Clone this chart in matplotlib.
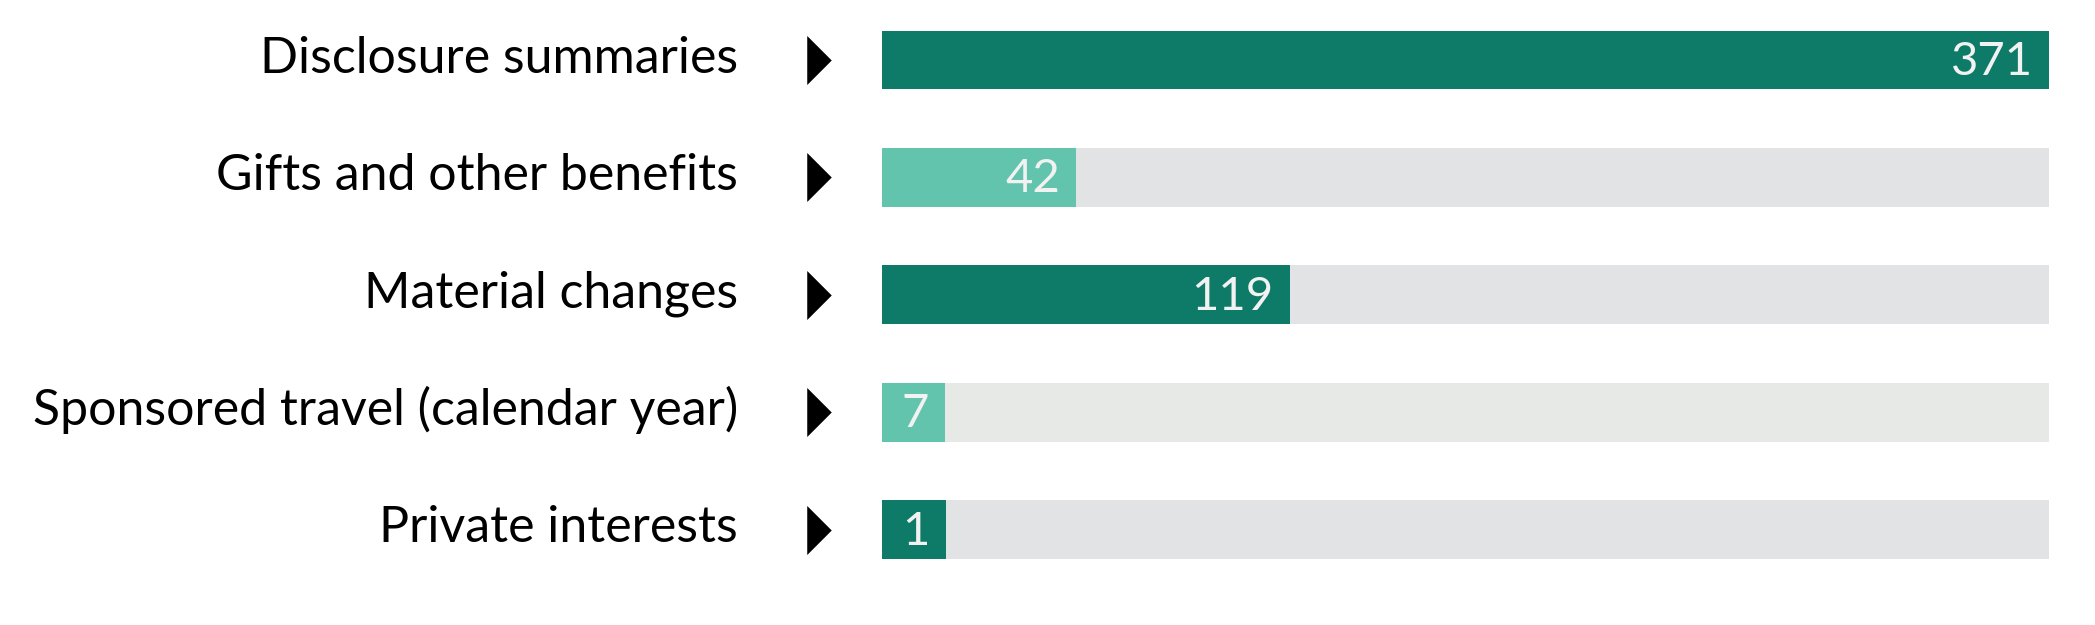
import matplotlib
matplotlib.use("Agg")
import matplotlib.pyplot as plt
import matplotlib.transforms as mtransforms

# data
categories = ["Disclosure summaries", "Gifts and other benefits", "Material changes",
              "Sponsored travel (calendar year)", "Private interests"]
counts = [371, 42, 119, 7, 1]
# bar lengths as drawn in the picture (the short ones are padded so the number fits)
shown = [371, 61.7, 129.6, 20.0, 20.3]
bar_colors = ["#0e7b68", "#62c4ad", "#0e7b68", "#62c4ad", "#0e7b68"]
track_colors = ["#e2e3e5", "#e2e3e5", "#e2e3e5", "#e7e9e7", "#e2e3e5"]
full = 371

plt.rcParams["font.family"] = ["Lato", "DejaVu Sans"]

fig = plt.figure(figsize=(20.95, 6.25), dpi=100)
ax = fig.add_axes([882 / 2095, 0, 1167 / 2095, 1])

rows = list(range(len(categories)))
ax.barh(rows, [full] * len(rows), height=0.5, color=track_colors, zorder=1)
ax.barh(rows, shown, height=0.5, color=bar_colors, zorder=2)

ax.set_xlim(0, full)
ax.set_ylim(4.813, -0.511)
ax.axis("off")

blend = mtransforms.blended_transform_factory(ax.transAxes, ax.transData)
offset = mtransforms.ScaledTranslation(-16 / 100, 0, fig.dpi_scale_trans)

arrow = [(-0.5, -1), (0.5, 0), (-0.5, 1)]
for i, name in enumerate(categories):
    ax.text(-0.1234, i + 0.107, name, transform=blend, ha="right", va="baseline",
            fontsize=36, color="black")
    ax.plot([-0.0544], [i], transform=blend, marker=arrow, markersize=35.3,
            color="black", markeredgewidth=0, clip_on=False)
    ax.text(shown[i], i + 0.128, str(counts[i]), transform=ax.transData + offset,
            ha="right", va="baseline", fontsize=34, fontweight="normal",
            color="#f2f2f2", zorder=3)

fig.savefig("out.png", dpi=100)
